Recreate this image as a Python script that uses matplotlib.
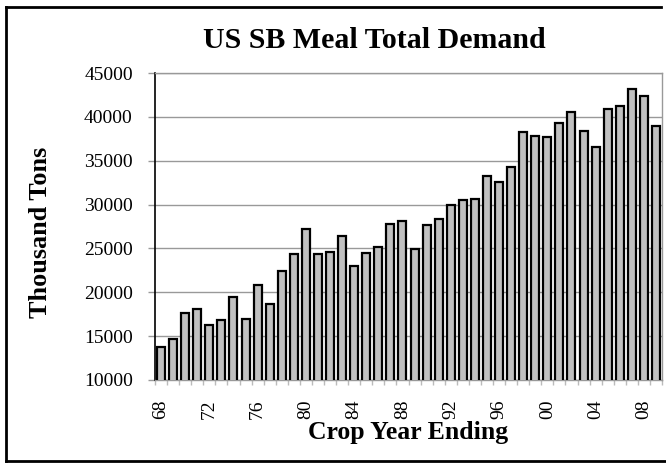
import matplotlib
matplotlib.use("Agg")
import matplotlib.pyplot as plt
from matplotlib.lines import Line2D

# Crop year ending 1968 .. 2009
years = ["68", "69", "70", "71", "72", "73", "74", "75", "76", "77",
         "78", "79", "80", "81", "82", "83", "84", "85", "86", "87",
         "88", "89", "90", "91", "92", "93", "94", "95", "96", "97",
         "98", "99", "00", "01", "02", "03", "04", "05", "06", "07",
         "08", "09"]
demand = [13730, 14640, 17680, 18100, 16310, 16800, 19430, 16920, 20800, 18670,
          22430, 24370, 27180, 24400, 24630, 26460, 23000, 24440, 25170, 27750,
          28130, 24970, 27670, 28400, 29950, 30490, 30640, 33260, 32580, 34330,
          38240, 37780, 37670, 39340, 40560, 38390, 36600, 40900, 41200, 43150,
          42420, 38960]
y_ticks = [10000, 15000, 20000, 25000, 30000, 35000, 40000, 45000]

plt.rcParams["font.family"] = ["Liberation Serif", "DejaVu Serif"]

W, H = 666, 463
fig = plt.figure(figsize=(W / 100, H / 100), dpi=100)
ax = fig.add_axes([155 / W, 1 - 380 / H, (662 - 155) / W, (380 - 73) / H])

x = list(range(len(years)))
ax.bar(x, demand, width=0.66, color="#c0c0c0", edgecolor="black", linewidth=1.6, zorder=3)

ax.set_xlim(-0.5, len(years) - 0.5)
ax.set_ylim(10000, 45000)
ax.set_yticks(y_ticks)
ax.set_yticklabels([str(v) for v in y_ticks], fontsize=14)
ax.yaxis.grid(True, color="#999999", linewidth=1.0, zorder=0)
ax.tick_params(axis="y", direction="out", length=5, width=1, color="#999999", pad=11)

# labels every fourth year, small ticks at category boundaries
ax.set_xticks(x[::4])
ax.set_xticklabels(years[::4], rotation=90, fontsize=14)
ax.tick_params(axis="x", length=0, pad=14)
ax.set_xticks([i - 0.5 for i in range(len(years) + 1)], minor=True)
ax.tick_params(axis="x", which="minor", direction="out", length=3.5, width=1, color="#bbbbbb")

ax.spines["left"].set_color("black")
ax.spines["left"].set_linewidth(1.2)
for side in ["top", "right", "bottom"]:
    ax.spines[side].set_color("#999999")
    ax.spines[side].set_linewidth(1.0)

fig.text(374 / W, 1 - 40 / H, "US SB Meal Total Demand", ha="center", va="center",
         fontsize=21.5, fontweight="bold")
fig.text(41 / W, 1 - 232 / H, "Thousand Tons", ha="center", va="center", rotation=90,
         fontsize=18.8, fontweight="bold")
fig.text(408 / W, 1 - 439 / H, "Crop Year Ending", ha="center", va="baseline",
         fontsize=18.5, fontweight="bold")

# outer chart border
lw = 2.0
fig.add_artist(Line2D([6 / W, 6 / W], [1 - 7 / H, 1 - 461 / H], color="black", linewidth=lw))
fig.add_artist(Line2D([6 / W, 661 / W], [1 - 7 / H, 1 - 7 / H], color="black", linewidth=lw))
fig.add_artist(Line2D([6 / W, 1.0], [1 - 461 / H, 1 - 461 / H], color="black", linewidth=lw))

fig.savefig("out.png", dpi=100)
